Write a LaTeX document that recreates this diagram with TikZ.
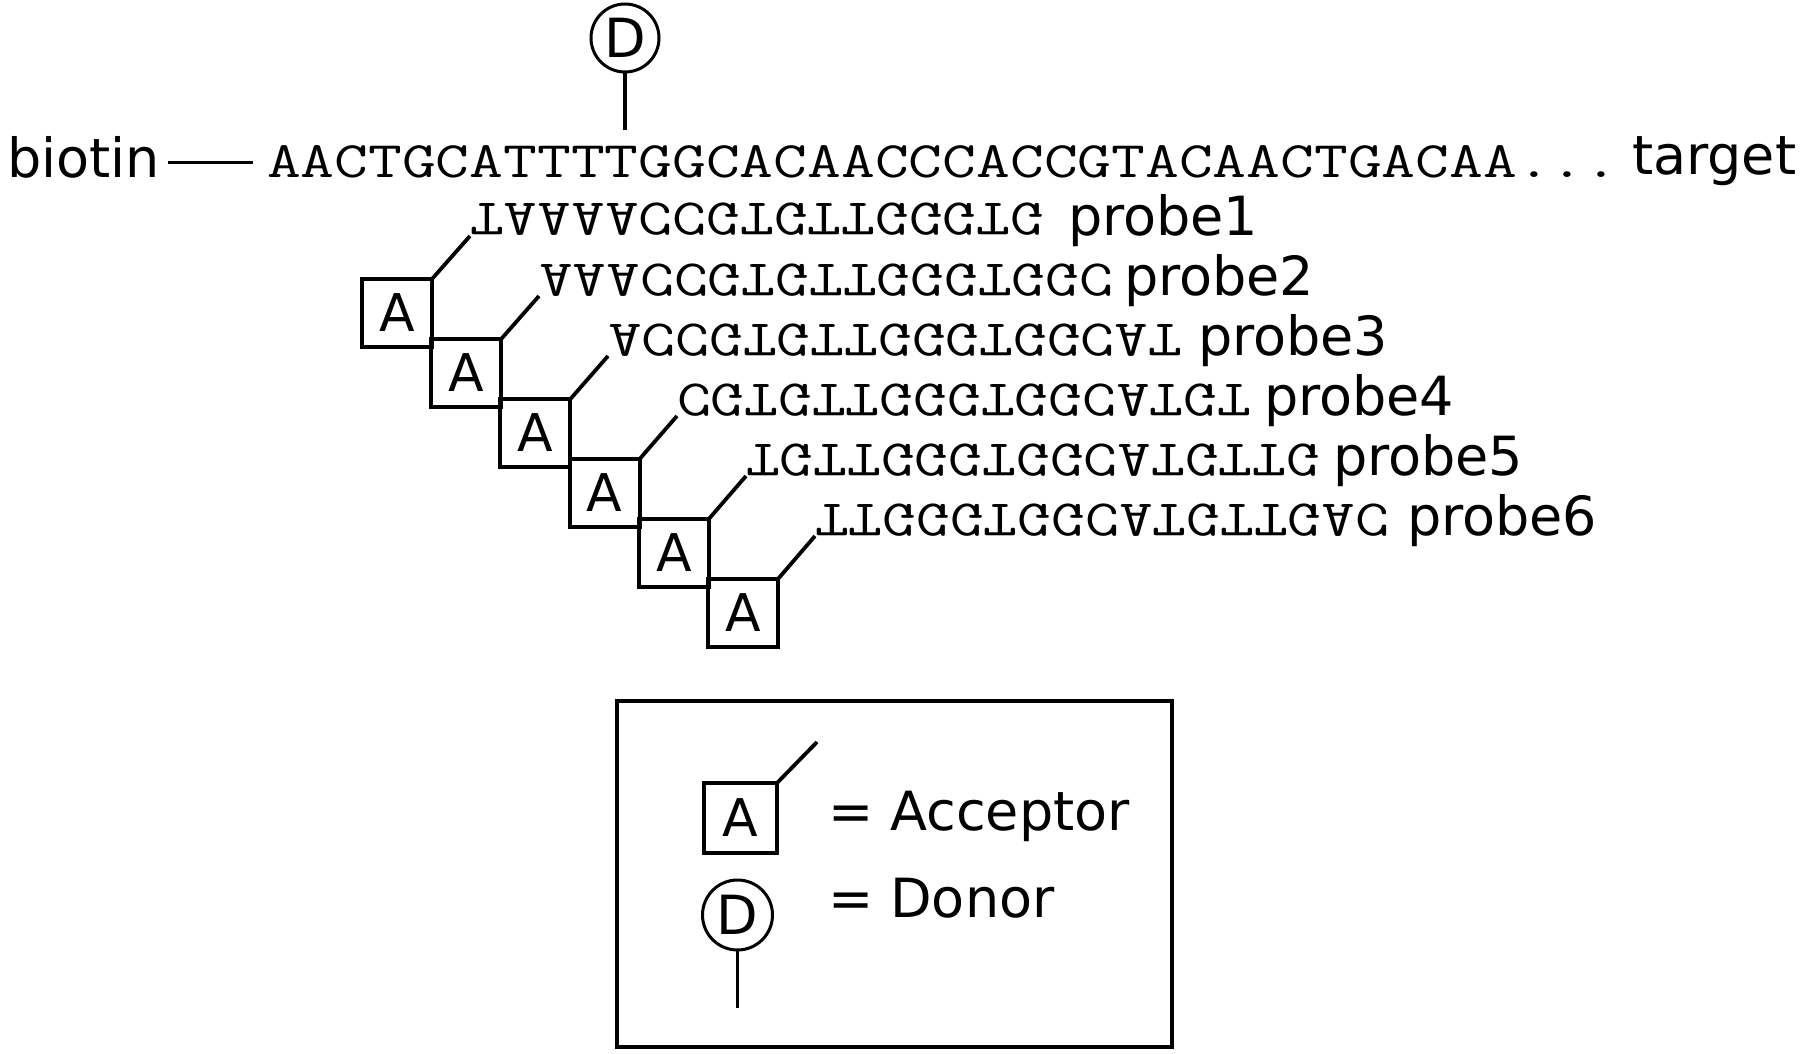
\documentclass[tikz,border=0pt]{standalone}
\usepackage{fontspec}
\setmainfont{DejaVu Sans}
\usepackage{graphicx}
\newcommand{\seqtxt}[1]{\scalebox{1}[0.78]{\fontsize{32.8}{32.8}\ttfamily #1}}
\newcommand{\flipseq}[1]{\scalebox{1}[-0.78]{\fontsize{32.8}{32.8}\ttfamily #1}}
\tikzset{
  sans/.style={font=\fontsize{27}{27}\selectfont, inner sep=0pt, outer sep=0pt},
  mono/.style={inner sep=0pt, outer sep=0pt},
  abox/.style={draw, line width=2pt, minimum width=35pt, minimum height=34pt, inner sep=0pt, outer sep=0pt, font=\fontsize{26}{26}\selectfont},
  dcirc/.style={draw, circle, line width=1.5pt, minimum size=34pt, inner sep=0pt, outer sep=0pt, font=\fontsize{27}{27}\selectfont},
  link/.style={line width=1.9pt},
  stemline/.style={line width=1.6pt},
  frame/.style={draw, line width=2pt, inner sep=0pt},
}
\begin{document}
\begin{tikzpicture}[x=0.5pt,y=-0.5pt]
\useasboundingbox[fill=white] (0,0) rectangle (1800,1054);
% donor on target
\node[dcirc] (d) at (625,38) {D};
\coordinate (dend) at (625,130);
\draw[stemline] (d.south) -- (dend);
% target strand
\node[sans, anchor=base west] (biotin) at (7,177) {biotin};
\coordinate (bl1) at (168,163);
\coordinate (bl2) at (253,163);
\draw[line width=1.5pt] (bl1) -- (bl2);
\node[mono, anchor=base west] (target) at (267,177) {\seqtxt{AACTGCATTTTGGCACAACCCACCGTACAACTGACAA...}};
\node[sans, anchor=base west] (tlabel) at (1632,175) {target};
% probes
\foreach \i/\seq/\lx in {1/TAAAACCGTGTTGGGTG/1068,2/AAACCGTGTTGGGTGGC/1124,3/ACCGTGTTGGGTGGCAT/1198,4/CGTGTTGGGTGGCATGT/1264,5/TGTTGGGTGGCATGTTG/1333,6/TTGGGTGGCATGTTGAC/1407}{
  \pgfmathsetmacro{\sx}{470+69*(\i-1)}
  \pgfmathsetmacro{\bot}{235+60*(\i-1)}
  \pgfmathsetmacro{\tp}{\bot-31}
  \pgfmathsetmacro{\bx}{397+69.2*(\i-1)}
  \pgfmathsetmacro{\by}{313+60*(\i-1)}
  \node[mono, anchor=base west] (p\i) at (\sx,\tp) {\flipseq{\seq}};
  \node[sans, anchor=base west] (lab\i) at (\lx,\bot) {probe\i};
  \node[abox] (a\i) at (\bx,\by) {A};
  \draw[link] (a\i.north east) -- (p\i.south west);
}
% legend
\node[frame, minimum width=277.5pt, minimum height=173pt] (legend) at (894.5,874) {};
\node[abox, minimum width=36.5pt, minimum height=35pt] (la) at (740.5,818) {A};
\coordinate (laend) at (817,742);
\draw[link] (la.north east) -- (laend);
\node[sans, anchor=base west] (lacc) at (828,830) {= Acceptor};
\node[dcirc, minimum size=35pt] (ld) at (737.5,915) {D};
\coordinate (ldend) at (737.5,1008);
\draw[stemline] (ld.south) -- (ldend);
\node[sans, anchor=base west] (ldon) at (828,917) {= Donor};
\end{tikzpicture}
\end{document}
